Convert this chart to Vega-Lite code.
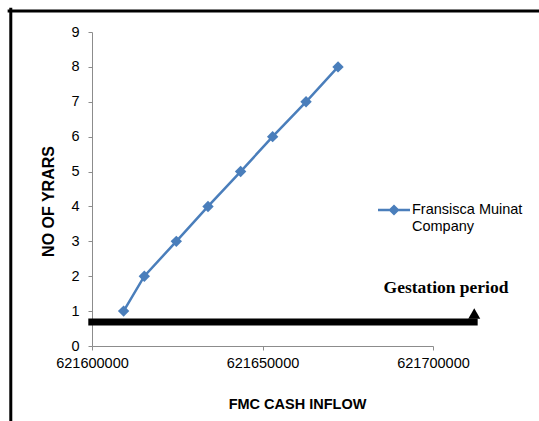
{
  "$schema": "https://vega.github.io/schema/vega-lite/v6.json",
  "autosize": "none",
  "width": 341,
  "height": 314,
  "padding": {"left": 92, "top": 32, "right": 106, "bottom": 75},
  "background": "white",
  "config": {
    "view": {"stroke": null},
    "font": "Liberation Sans",
    "axis": {"labelFont": "Liberation Sans", "titleFont": "Liberation Sans", "labelColor": "#000000", "titleColor": "#000000", "domainColor": "#8c8c8c", "tickColor": "#8c8c8c", "grid": false, "labelOverlap": false},
    "axisY": {"labelOverlap": false, "labelSeparation": 0},
    "axisQuantitative": {"labelOverlap": false}
  },
  "datasets": {
    "series": [
      {"cash": 621609270, "years": 1, "company": "Fransisca Muinat Company"},
      {"cash": 621615340, "years": 2, "company": "Fransisca Muinat Company"},
      {"cash": 621624725, "years": 3, "company": "Fransisca Muinat Company"},
      {"cash": 621634020, "years": 4, "company": "Fransisca Muinat Company"},
      {"cash": 621643580, "years": 5, "company": "Fransisca Muinat Company"},
      {"cash": 621652970, "years": 6, "company": "Fransisca Muinat Company"},
      {"cash": 621662770, "years": 7, "company": "Fransisca Muinat Company"},
      {"cash": 621672150, "years": 8, "company": "Fransisca Muinat Company"}
    ],
    "frame": [
      {"x": 621576184, "x2": 621576184, "y": 9.65, "y2": -2.4},
      {"x": 621575700, "x2": 621740000, "y": 9.6, "y2": 9.6}
    ],
    "bar": [
      {"x": 621598915, "x2": 621713100, "y": 0.69, "y2": 0.69}
    ],
    "head": [
      {"x": 621712100, "y": 0.93}
    ],
    "note": [
      {"x": 621703812, "y": 1.65, "label": "Gestation period"}
    ]
  },
  "layer": [
    {
      "data": {"name": "frame"},
      "mark": {"type": "rule", "color": "#000000", "strokeWidth": 3, "strokeCap": "square"},
      "encoding": {
        "x": {
          "field": "x", "type": "quantitative", "scale": {"domain": [621600000, 621700000], "nice": false, "zero": false},
          "axis": {"values": [621600000, 621650000, 621700000], "format": "d", "title": "FMC CASH INFLOW", "titleFontSize": 14.5, "titleFontWeight": "bold", "labelFontSize": 14.5, "tickSize": 4, "labelPadding": 6, "labelFlush": false, "labelOverlap": false, "labelBound": false, "titleX": 205, "titleY": 58, "titleBaseline": "middle", "titleAlign": "center"}
        },
        "x2": {"field": "x2"},
        "y": {
          "field": "y", "type": "quantitative", "scale": {"domain": [0, 9], "nice": false},
          "axis": {"values": [0, 1, 2, 3, 4, 5, 6, 7, 8, 9], "tickCount": 10, "format": "d", "title": "NO OF YRARS", "titleFontSize": 16, "titleFontWeight": "bold", "labelFontSize": 14.5, "tickSize": 4, "labelPadding": 9, "labelOverlap": false, "labelBound": false, "labelFlush": false, "titleX": -44, "titleY": 169, "titleBaseline": "middle", "titleAlign": "center", "titleAngle": -90}
        },
        "y2": {"field": "y2"}
      }
    },
    {
      "data": {"name": "bar"},
      "mark": {"type": "rule", "color": "#000000", "strokeWidth": 7, "strokeCap": "butt"},
      "encoding": {
        "x": {"field": "x", "type": "quantitative"},
        "x2": {"field": "x2"},
        "y": {"field": "y", "type": "quantitative"},
        "y2": {"field": "y2"}
      }
    },
    {
      "data": {"name": "head"},
      "mark": {"type": "point", "shape": "triangle-up", "filled": true, "color": "#000000", "size": 144, "opacity": 1},
      "encoding": {
        "x": {"field": "x", "type": "quantitative"},
        "y": {"field": "y", "type": "quantitative"}
      }
    },
    {
      "data": {"name": "note"},
      "mark": {"type": "text", "font": "Liberation Serif", "fontWeight": "bold", "fontSize": 17.5, "color": "#000000", "align": "center", "baseline": "middle"},
      "encoding": {
        "x": {"field": "x", "type": "quantitative"},
        "y": {"field": "y", "type": "quantitative"},
        "text": {"field": "label"}
      }
    },
    {
      "data": {"name": "series"},
      "mark": {"type": "line", "strokeWidth": 2.5, "point": {"shape": "diamond", "filled": true, "size": 130, "opacity": 1}},
      "encoding": {
        "x": {"field": "cash", "type": "quantitative"},
        "y": {"field": "years", "type": "quantitative"},
        "color": {
          "field": "company", "type": "nominal",
          "scale": {"range": ["#4a7ebb"]},
          "legend": {
            "orient": "none", "legendX": 286, "legendY": 162, "title": null,
            "symbolType": "M-1,-0.08H1V0.08H-1Z M0,-0.35L0.35,0L0,0.35L-0.35,0Z",
            "symbolSize": 1024, "symbolStrokeWidth": 0, "symbolFillColor": "#4a7ebb",
            "labelFont": "Liberation Sans", "labelFontSize": 14.5, "labelColor": "#000000",
            "labelLimit": 300, "labelOffset": 2, "padding": 0,
            "labelExpr": "['Fransisca Muinat', 'Company']"
          }
        }
      }
    }
  ]
}
